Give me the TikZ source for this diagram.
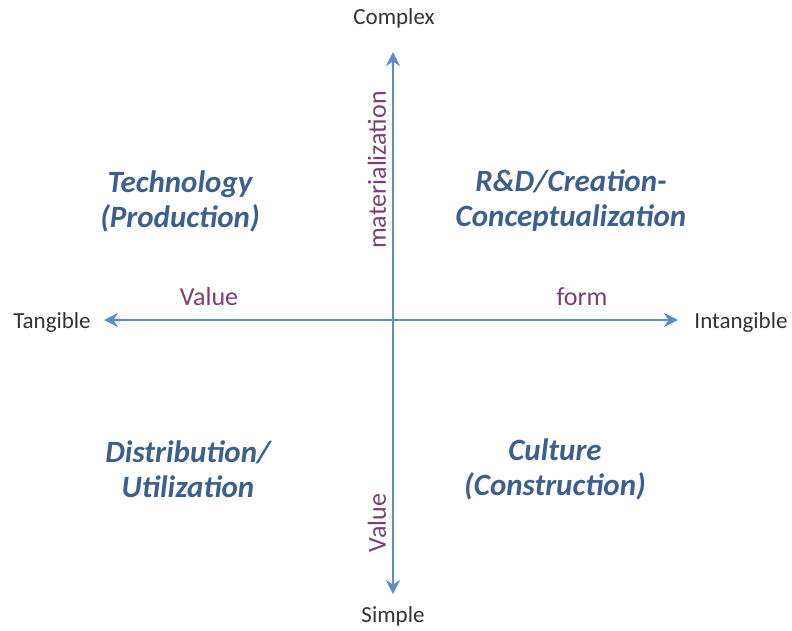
\documentclass[tikz,border=0pt]{standalone}
\usepackage{fontspec}
\setmainfont{Carlito}
\usetikzlibrary{arrows.meta}
\definecolor{axisblue}{HTML}{5A8EC6}
\definecolor{quadblue}{HTML}{3D5F8E}
\definecolor{labpurple}{HTML}{7B3F78}
\tikzset{
  axis/.style={draw=axisblue, line width=2.9pt, -{Stealth[length=14pt,width=14pt,inset=4.5pt]}},
  quad/.style={text=quadblue, font=\fontsize{31}{35}\selectfont\bfseries\itshape, align=center},
  endlab/.style={text=black!80, font=\fontsize{23}{26}\selectfont},
  axlab/.style={text=labpurple, font=\fontsize{26}{29}\selectfont}
}
\begin{document}
\begin{tikzpicture}[x=1pt,y=-1pt]
\useasboundingbox (0,0) rectangle (792,630);
\coordinate (o) at (393,320);
\coordinate (top) at (393,52);
\coordinate (bot) at (393,594);
\coordinate (lft) at (104,320);
\coordinate (rgt) at (678,320);
\draw[axis] (o) -- (top);
\draw[axis] (o) -- (bot);
\draw[axis] (o) -- (lft);
\draw[axis] (o) -- (rgt);
\node[endlab] (complex) at (394,18) {Complex};
\node[endlab] (simple) at (393,616) {Simple};
\node[endlab] (tangible) at (52,322) {Tangible};
\node[endlab] (intangible) at (741,322) {Intangible};
\node[axlab] (value1) at (209,297) {Value};
\node[axlab] (form) at (582,297) {form};
\node[axlab, rotate=90] (mat) at (377,170) {materialization};
\node[axlab, rotate=90] (value2) at (377,523) {Value};
\node[quad] (tech) at (180,201) {Technology\\(Production)};
\node[quad] (rd) at (571,201) {R\&D/Creation-\\Conceptualization};
\node[quad] (dist) at (188,469) {Distribution/\\Utilization};
\node[quad] (cult) at (555,469) {Culture\\(Construction)};
\end{tikzpicture}
\end{document}
